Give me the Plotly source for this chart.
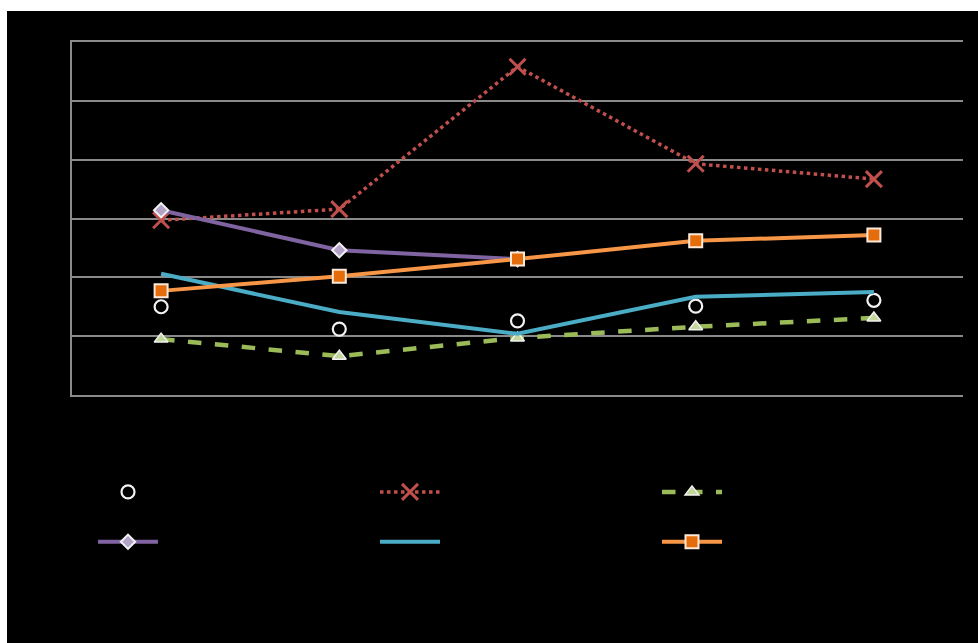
import plotly.graph_objects as go

# Five sampling points along the x axis
categories = ["A", "B", "C", "D", "E"]

# Series values
circle_vals = [1.50, 1.12, 1.26, 1.51, 1.61]
cross_vals = [2.97, 3.16, 5.58, 3.93, 3.67]
triangle_vals = [0.95, 0.66, 0.97, 1.16, 1.31]
diamond_vals = [3.14, 2.46, 2.31, None, None]
cyan_vals = [2.06, 1.41, 1.04, 1.67, 1.75]
square_vals = [1.77, 2.02, 2.31, 2.62, 2.72]

series_names = ["Series 1", "Series 2", "Series 3", "Series 4", "Series 5", "Series 6"]

W, H = 978, 643
ML, MR, MT, MB = 72, 15, 42, 248
PW, PH = W - ML - MR, H - MT - MB

fig = go.Figure()

fig.add_trace(go.Scatter(
    x=categories, y=circle_vals, name=series_names[0], mode="markers",
    marker=dict(symbol="circle-open", size=13, color="#f2f2f2", line=dict(width=2.2, color="#f2f2f2")),
))
fig.add_trace(go.Scatter(
    x=categories, y=cross_vals, name=series_names[1], mode="lines+markers",
    line=dict(color="#c0504d", width=3.5, dash="dot"),
    marker=dict(symbol="x-thin-open", size=16, color="#c0504d", line=dict(width=3, color="#c0504d")),
))
fig.add_trace(go.Scatter(
    x=categories, y=triangle_vals, name=series_names[2], mode="lines+markers",
    line=dict(color="#9bbb59", width=4.5, dash="dash"),
    marker=dict(symbol="triangle-up", size=12, color="#c3d69b", line=dict(width=1.5, color="#f2f2f2")),
))
fig.add_trace(go.Scatter(
    x=categories, y=diamond_vals, name=series_names[3], mode="lines+markers",
    line=dict(color="#8064a2", width=4),
    marker=dict(symbol="diamond", size=11, color="#b3a2c7", line=dict(width=2, color="#f2f2f2")),
))
fig.add_trace(go.Scatter(
    x=categories, y=cyan_vals, name=series_names[4], mode="lines",
    line=dict(color="#4bacc6", width=4),
))
fig.add_trace(go.Scatter(
    x=categories, y=square_vals, name=series_names[5], mode="lines+markers",
    line=dict(color="#f79646", width=4),
    marker=dict(symbol="square", size=13, color="#e46c0a", line=dict(width=2, color="#fde9d9")),
))

# White page edges around the black chart area (paper coordinates)
def px_x(p):
    return (p - ML) / PW

def px_y(p):
    return (H - MB - p) / PH

shapes = [
    dict(type="rect", xref="paper", yref="paper", x0=px_x(0), x1=px_x(W), y0=px_y(0), y1=px_y(11),
         fillcolor="white", line=dict(width=0), layer="above"),
    dict(type="rect", xref="paper", yref="paper", x0=px_x(0), x1=px_x(7), y0=px_y(0), y1=px_y(H),
         fillcolor="white", line=dict(width=0), layer="above"),
]

fig.update_layout(
    width=W, height=H,
    margin=dict(l=ML, r=MR, t=MT, b=MB),
    paper_bgcolor="black", plot_bgcolor="black",
    showlegend=True,
    shapes=shapes,
    legend=dict(
        orientation="h", x=px_x(93), xanchor="left", y=px_y(462), yanchor="top",
        entrywidth=207, entrywidthmode="pixels",
        font=dict(size=36, color="black", family="Liberation Sans"),
        bgcolor="rgba(0,0,0,0)", itemwidth=60,
    ),
    xaxis=dict(
        range=[-0.5, 4.5], showgrid=False, showticklabels=False, ticks="",
        showline=True, mirror=True, linecolor="#8a8a8a", linewidth=2, zeroline=False,
    ),
    yaxis=dict(
        range=[0, 6], dtick=1, showgrid=True, gridcolor="#8a8a8a", gridwidth=1.5,
        showticklabels=False, ticks="", showline=True, linecolor="#8a8a8a", linewidth=2,
        zeroline=False,
    ),
)

fig.write_html("out.html")
